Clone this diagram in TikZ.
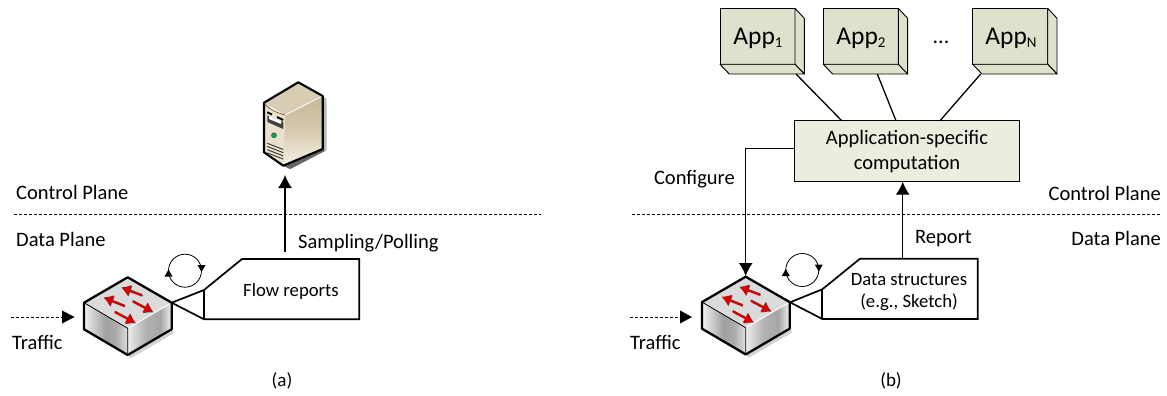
\documentclass[tikz,border=0pt]{standalone}
\usepackage{fontspec}
\setmainfont{Carlito}
\usetikzlibrary{arrows.meta,calc}
\pgfdeclarehorizontalshading{swleft}{100bp}{color(0bp)=(white);color(25bp)=(white!90!gray);color(50bp)=(gray!75);color(62bp)=(gray!65);color(75bp)=(gray!25);color(100bp)=(gray!25)}
\pgfdeclarehorizontalshading{swright}{100bp}{color(0bp)=(white);color(25bp)=(gray!15);color(45bp)=(gray!60);color(62bp)=(gray!70);color(75bp)=(gray!10);color(100bp)=(gray!10)}
\definecolor{appfill}{HTML}{DDE2CC}
\definecolor{compfill}{HTML}{EBEEDE}
\definecolor{swred}{HTML}{D80000}
\definecolor{srvtop}{HTML}{D8CDB2}
\definecolor{srvfront}{HTML}{E9E1CC}
\definecolor{srvsideA}{HTML}{C6B797}
\definecolor{srvsideB}{HTML}{D6CBB0}
\definecolor{srvsideC}{HTML}{F4F0E4}
\tikzset{
  lbl/.style={inner sep=0pt,font=\fontsize{20.5}{24}\selectfont},
  boxlbl/.style={inner sep=0pt,font=\fontsize{18.7}{22}\selectfont},
  applbl/.style={inner sep=0pt,font=\fontsize{25.5}{28}\selectfont},
  conn/.style={draw=black,line width=1.3pt},
  arrowed/.style={conn,-{Latex[length=13pt,width=14pt]}},
  plane/.style={draw=black,line width=0.9pt,dash pattern=on 3pt off 2pt},
  callout/.style={draw=black,line width=1.7pt,fill=white,line join=miter},
  appface/.style={draw=black,line width=0.9pt,fill=appfill,line join=round},
  cycle arrow/.style={draw=black,line width=0.8pt},
  swedge/.style={draw=black,line width=2.3pt,line join=round},
  redarrow/.style={line width=2pt,-{Latex[length=9pt,width=12pt]}},
  switchpic/.pic={
    \fill[gray!35] (0.5,77.7)--(46,53)--(46,56)--(3,81)--cycle;
    \shade[shading=swleft] (-43.7,25.4)--(0,51)--(0,77.7)--(-43.7,52)--cycle;
    \shade[shading=swright] (0,51)--(44,25.4)--(44,52)--(0,77.7)--cycle;
    \fill[gray!28] (0,0)--(44,25.4)--(0,51)--(-43.7,25.4)--cycle;
    \draw[white,line width=0.9pt] (0,51)--(44,25.4);
    \draw[black,line width=0.8pt] (-43.7,25.4)--(0,51)--(0,77.7);
    \draw[swedge] (0,0)--(44,25.4)--(44,52)--(0,77.7)--(-43.7,52)--(-43.7,25.4)--cycle;
    \foreach \ax/\ay/\bx/\by in {14.3/17.7/-6.3/10,-3.3/28.3/-24/20,5/23.7/25.3/34.3,-13/34.3/7.7/45.3}{
      \draw[redarrow,black!70] (\ax+0.5,\ay+0.8)--(\bx+0.5,\by+0.8);
      \draw[redarrow,swred] (\ax,\ay)--(\bx,\by);
    }
  }
}
\newcommand{\sbs}[1]{\raisebox{-3pt}{\fontsize{15}{15}\selectfont #1}}
\begin{document}
\begin{tikzpicture}[x=1pt,y=-1pt]
\useasboundingbox (0,0) rectangle (1167,396);
% ---------- server
\fill[gray!55] (322.7,96)--(326.5,99)--(326.5,150)--(291,169)--(283.3,165.7)--cycle;
\fill[black!60] (283.3,165.7)--(322.7,149)--(325,151)--(290,169)--cycle;
\shade[top color=srvsideA,bottom color=srvsideC,middle color=srvsideB] (285,115)--(322.7,96)--(322.7,149)--(283.3,165.7)--cycle;
\fill[srvtop] (264,102.7)--(298.3,82.3)--(322.7,96)--(285,115)--cycle;
\fill[srvfront] (264,102.7) .. controls (270,110) and (278,113) .. (285,115)--(283.3,165.7)--(264,152.3)--cycle;
\draw[brown!60!black,line width=0.7pt] (265,104) .. controls (270,110) and (278,113) .. (285,115);
\draw[white,line width=0.8pt] (285,115)--(322.7,96);
\draw[black,line width=1.9pt] (267.3,112.3)--(272,114.5);
\draw[black,line width=1.9pt] (277,117)--(283.3,120);
\fill[black!75] (267.3,115.5)--(283.3,122)--(283.3,129)--(267.3,122)--cycle;
\fill[white] (269,116)--(281,121)--(281,124)--(269,119)--cycle;
\draw[black!70,fill=teal!70!green] (274,135.3) circle (2.6pt);
\foreach \d in {0,3.2,6.4,9.6}{\draw[black!80,line width=0.9pt] (267.3,143.3+\d)--(283.3,149.5+\d);}
\draw[black,line width=2.1pt,line join=round] (298.3,82.3)--(322.7,96)--(322.7,149)--(283.3,165.7)--(264,152.3)--(264,102.7)--cycle;
% ---------- panel (a)
\node[lbl,anchor=west] (cpa) at (16,192) {Control Plane};
\node[lbl,anchor=west] (dpa) at (16,239) {Data Plane};
\coordinate (pla) at (14,214); \coordinate (plb) at (541,214);
\draw[plane] (pla)--(plb);
\coordinate (srvbase) at (285,175);
\coordinate (reptail) at (285,251.5);
\draw[arrowed] (reptail)--(srvbase);
\node[lbl,anchor=west] (samp) at (298,243) {Sampling/Polling};
\path pic at (127.7,277.3) {switchpic};
\coordinate (swa) at (171.7,302.7);
\coordinate (ca1) at (204,290); \coordinate (ca2) at (242,259); \coordinate (ca3) at (359.3,259);
\coordinate (ca4) at (359.3,319.3); \coordinate (ca5) at (204,319.3);
\path[callout] (swa)--(ca1)--(ca2)--(ca3)--(ca4)--(ca5)--cycle;
\draw[callout] (ca1)--(ca5);
\node[boxlbl] (flow) at (291,291.5) {Flow reports};
\coordinate (cca) at (185,270.7);
\draw[cycle arrow] (cca) circle (16.5pt);
\fill (201.5,272)--(197.5,265)--(205.5,265)--cycle;
\fill (168.5,269.5)--(164.5,276.5)--(172.5,276.5)--cycle;
\coordinate (ta1) at (11,317); \coordinate (ta2) at (74.5,317);
\draw[plane,line width=1pt] (ta1)--(62,317);
\fill (ta2)--(62,310.5)--(62,323.5)--cycle;
\node[lbl,anchor=west] (tra) at (12,342) {Traffic};
\node[lbl,font=\fontsize{19}{22}\selectfont] (capa) at (282,381) {(a)};
% ---------- panel (b)
\foreach \bx in {720,823.3,972.7}{
  \path[appface] (\bx,8.3) rectangle (\bx+75,64.3);
  \path[appface] (\bx+75,8.3)--(\bx+84.3,18.3)--(\bx+84.3,74)--(\bx+75,64.3)--cycle;
  \path[appface] (\bx,64.3)--(\bx+75,64.3)--(\bx+84.3,74)--(\bx+9.3,74)--cycle;
}
\node[applbl] (app1) at (758,38) {App\sbs{1}};
\node[applbl] (app2) at (861,38) {App\sbs{2}};
\node[applbl] (appn) at (1011,38) {App\sbs{N}};
\node[lbl,font=\fontsize{22}{22}\selectfont] (dots) at (941,42) {...};
\node[draw=black,line width=1.2pt,fill=compfill,minimum width=225.4pt,minimum height=61pt,inner sep=0pt,align=center,font=\fontsize{20.5}{25}\selectfont] (comp) at (907,151.2) {Application-specific\\computation};
\draw[conn] (796,74)--(841.7,120.7);
\draw[conn] (877.3,74)--(896,120.7);
\draw[conn] (980.7,74)--(940,120.7);
\coordinate (plc) at (632,214); \coordinate (pld) at (1160,214);
\draw[plane] (plc)--(pld);
\node[lbl,anchor=east] (cpb) at (1161,193) {Control Plane};
\node[lbl,anchor=east] (dpb) at (1161,238) {Data Plane};
\node[lbl,anchor=east] (cfg) at (735,179) {Configure};
\path pic at (745.7,276.7) {switchpic};
\draw[arrowed] (comp.west |- 0,148.3)--(745.7,148.3)--(745.7,276);
\coordinate (swb) at (790,302.3);
\coordinate (cb1) at (822.3,289.3); \coordinate (cb2) at (860,258.7); \coordinate (cb3) at (977.7,258.7);
\coordinate (cb4) at (977.7,319); \coordinate (cb5) at (822.3,319);
\path[callout] (swb)--(cb1)--(cb2)--(cb3)--(cb4)--(cb5)--cycle;
\draw[callout] (cb1)--(cb5);
\draw[arrowed] (902.7,258.7)--(902.7,181.7);
\node[lbl,anchor=west] (rep) at (915,239) {Report};
\node[boxlbl,align=center] (ds) at (909,292) {Data structures\\(e.g., Sketch)};
\coordinate (ccb) at (802.3,270);
\draw[cycle arrow] (ccb) circle (16.5pt);
\fill (818.8,271.5)--(814.8,264.5)--(822.8,264.5)--cycle;
\fill (785.8,269)--(781.8,276)--(789.8,276)--cycle;
\coordinate (tb1) at (630,317); \coordinate (tb2) at (692,317);
\draw[plane,line width=1pt] (tb1)--(680,317);
\fill (tb2)--(680,310.5)--(680,323.5)--cycle;
\node[lbl,anchor=west] (trb) at (630,342) {Traffic};
\node[lbl,font=\fontsize{19}{22}\selectfont] (capb) at (891,381) {(b)};
\end{tikzpicture}
\end{document}
